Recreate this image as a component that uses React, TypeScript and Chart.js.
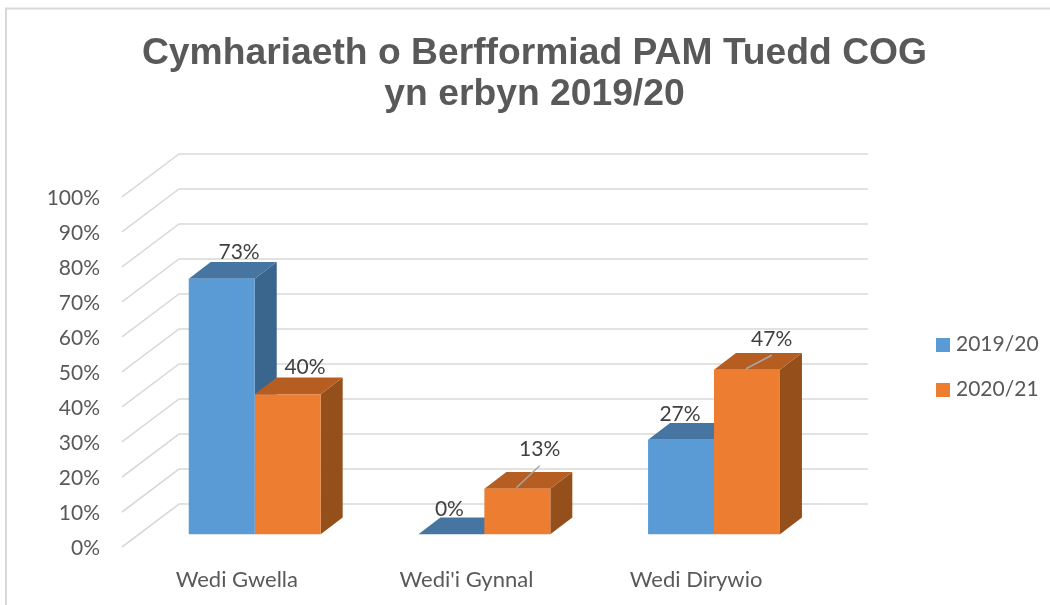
import React, { useEffect, useRef } from "react";
import { Chart, registerables } from "chart.js";

Chart.register(...registerables);

const categories = ["Wedi Gwella", "Wedi'i Gynnal", "Wedi Dirywio"];
const seriesNames = ["2019/20", "2020/21"];
const values2019 = [73, 0, 27];
const values2020 = [40, 13, 47];
const titleLines = ["Cymhariaeth o Berfformiad PAM Tuedd COG", "yn erbyn 2019/20"];

const frontColors = ["#5B9BD5", "#ED7D31"];
const topColors = ["#4675A1", "#B65E21"];
const sideColors = ["#3A658D", "#954F1B"];
const gridColor = "#D9D9D9";
const axisText = "#595959";
const labelText = "#404040";
const FONT = "Lato";

// 3D projection offsets (pixels)
const WALL = { dx: 57, dy: -43 };
const BAR_SHIFT = { dx: 17.9, dy: -12.7 };
const BAR_DEPTH = { dx: 22, dy: -16.7 };

// data label placement relative to the bar's front-top centre, [series][category]
const labelOffsets = [
  [[17.3, -27], [-2, -25], [-1, -25.5]],
  [[17.3, -27], [22.3, -39.5], [24.7, -31]],
];
// leader lines, relative to the same point; null when the label has none
const leaders: (number[] | null)[][] = [
  [null, null, null],
  [null, [-1, -1, 22.3, -23], [-1, -1, 24.7, -14.5]],
];

function swatch(color: string) {
  const c = document.createElement("canvas");
  c.width = 14;
  c.height = 14;
  const x = c.getContext("2d")!;
  x.fillStyle = color;
  x.fillRect(0, 0, 14, 14);
  return c;
}

const pseudo3d = {
  id: "pseudo3d",
  afterLayout(chart: any) {
    const l = chart.legend;
    if (l) {
      const w = l.right - l.left;
      const h = l.bottom - l.top;
      l.left = 916.5;
      l.right = l.left + w;
      l.top = 310;
      l.bottom = l.top + h;
    }
    const t = chart.titleBlock;
    if (t) {
      t.left += 53.5;
      t.right += 53.5;
    }
  },
  beforeDraw(chart: any) {
    const ctx = chart.ctx;
    ctx.save();
    ctx.strokeStyle = gridColor;
    ctx.lineWidth = 2;
    ctx.strokeRect(6, 8.5, 1200, 800);
    ctx.restore();
  },
  beforeDatasetsDraw(chart: any) {
    const ctx = chart.ctx;
    const { left, right } = chart.chartArea;
    const yScale = chart.scales.y;
    ctx.save();
    ctx.strokeStyle = gridColor;
    ctx.lineWidth = 1.6;
    yScale.ticks.forEach((_t: any, i: number) => {
      const y = yScale.getPixelForTick(i);
      ctx.beginPath();
      ctx.moveTo(left, y);
      ctx.lineTo(left + WALL.dx, y + WALL.dy);
      ctx.lineTo(right + WALL.dx, y + WALL.dy);
      ctx.stroke();
    });
    ctx.restore();

    ctx.save();
    ctx.translate(BAR_SHIFT.dx, BAR_SHIFT.dy);
    chart.data.datasets.forEach((_d: any, di: number) => {
      chart.getDatasetMeta(di).data.forEach((bar: any) => {
        const l = bar.x - bar.width / 2;
        const r = bar.x + bar.width / 2;
        const t = bar.y;
        const b = bar.base;
        const { dx, dy } = BAR_DEPTH;
        ctx.fillStyle = sideColors[di];
        ctx.beginPath();
        ctx.moveTo(r, t);
        ctx.lineTo(r + dx, t + dy);
        ctx.lineTo(r + dx, b + dy);
        ctx.lineTo(r, b);
        ctx.closePath();
        ctx.fill();
        ctx.fillStyle = topColors[di];
        ctx.beginPath();
        ctx.moveTo(l, t);
        ctx.lineTo(l + dx, t + dy);
        ctx.lineTo(r + dx, t + dy);
        ctx.lineTo(r, t);
        ctx.closePath();
        ctx.fill();
      });
    });
    // the bars' native front faces are drawn inside this translation
  },
  afterDatasetsDraw(chart: any) {
    const ctx = chart.ctx;
    ctx.restore();
    ctx.save();
    chart.data.datasets.forEach((d: any, di: number) => {
      chart.getDatasetMeta(di).data.forEach((bar: any, i: number) => {
        const x = bar.x + BAR_SHIFT.dx;
        const y = bar.y + BAR_SHIFT.dy;
        const ld = leaders[di][i];
        if (ld) {
          ctx.strokeStyle = "#A6A6A6";
          ctx.lineWidth = 1.5;
          ctx.beginPath();
          ctx.moveTo(x + ld[0], y + ld[1]);
          ctx.lineTo(x + ld[2], y + ld[3]);
          ctx.stroke();
        }
        const [ox, oy] = labelOffsets[di][i];
        ctx.fillStyle = labelText;
        ctx.font = `21px ${FONT}`;
        ctx.textAlign = "center";
        ctx.textBaseline = "middle";
        ctx.fillText(`${d.data[i]}%`, x + ox, y + oy);
      });
    });
    ctx.restore();
  },
};

export default function App() {
  const ref = useRef<HTMLCanvasElement>(null);
  useEffect(() => {
    const chart = new Chart(ref.current!, {
      type: "bar",
      data: {
        labels: categories,
        datasets: [
          {
            label: seriesNames[0],
            data: values2019,
            backgroundColor: frontColors[0],
            borderWidth: 0,
            pointStyle: swatch(frontColors[0]),
            clip: false,
          },
          {
            label: seriesNames[1],
            data: values2020,
            backgroundColor: frontColors[1],
            borderWidth: 0,
            pointStyle: swatch(frontColors[1]),
            clip: false,
          },
        ],
      } as any,
      options: {
        responsive: false,
        animation: false,
        layout: { padding: { left: 19, right: 107, top: 0, bottom: 0 } },
        datasets: { bar: { categoryPercentage: 0.5744, barPercentage: 1 } },
        plugins: {
          tooltip: { enabled: false },
          title: {
            display: true,
            text: titleLines,
            color: axisText,
            font: { family: "Liberation Sans", size: 37.25, weight: "bold", lineHeight: 1.1 },
            padding: { top: 33.5, bottom: 81.5 },
          },
          legend: {
            display: true,
            position: "right",
            align: "start",
            fullSize: false,
            labels: {
              color: axisText,
              font: { family: FONT, size: 21 },
              padding: 24,
              usePointStyle: true,
              pointStyleWidth: 5,
            },
          },
        },
        scales: {
          x: {
            grid: { display: false },
            border: { display: false },
            ticks: { color: axisText, font: { family: FONT, size: 22 }, padding: 12 },
            afterFit(s: any) {
              s.height = 58;
            },
          },
          y: {
            min: 0,
            max: 100,
            grid: { display: false },
            border: { display: false },
            ticks: {
              stepSize: 10,
              color: axisText,
              font: { family: FONT, size: 21 },
              padding: 14,
              labelOffset: 1,
              callback: (v: any) => `${v}%`,
            },
            afterFit(s: any) {
              s.width = 103;
            },
          },
        },
      } as any,
      plugins: [pseudo3d as any],
    });
    return () => chart.destroy();
  }, []);
  return (
    <div style={{ position: "fixed", left: 0, top: 0, width: 1050, height: 605, background: "#fff" }}>
      <canvas ref={ref} width={1050} height={605} style={{ display: "block" }} />
    </div>
  );
}
